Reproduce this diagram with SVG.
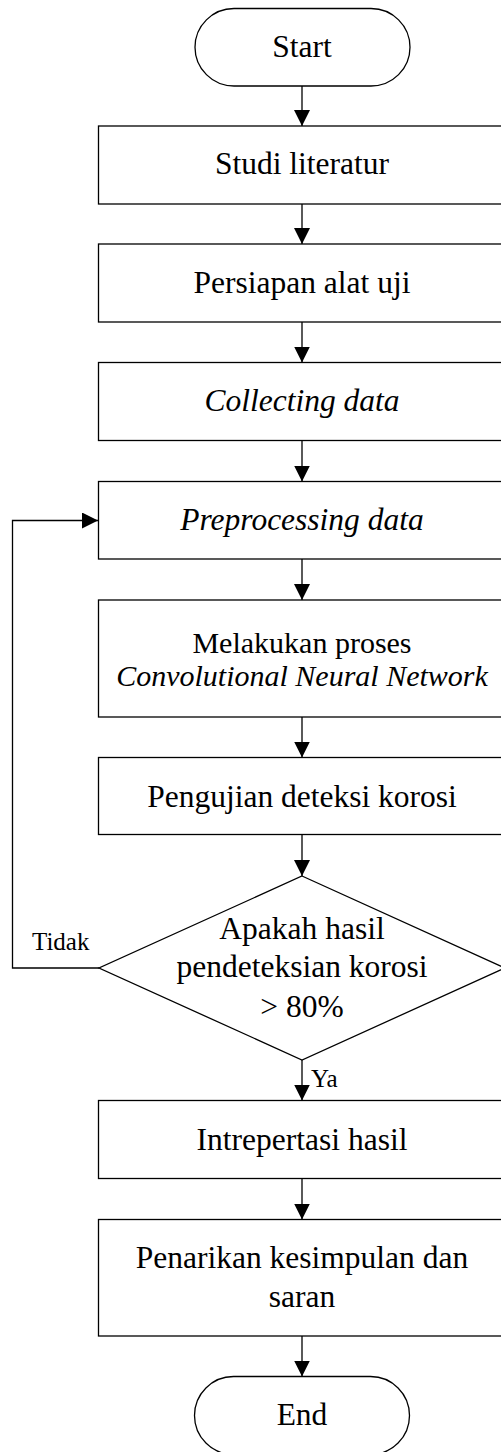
<svg xmlns="http://www.w3.org/2000/svg" width="501" height="1452" viewBox="0 0 501 1452">
  <style>
    .shape { fill: #ffffff; stroke: #000000; stroke-width: 1.3; }
    .wire { fill: none; stroke: #000000; stroke-width: 1.3; }
    .t { font-family: "Liberation Serif", "Times New Roman", serif; font-size: 31.5px; fill: #000000; text-anchor: middle; }
    .tight { font-size: 30px; }
    .it { font-style: italic; }
    .lbl { font-family: "Liberation Serif", "Times New Roman", serif; font-size: 25px; fill: #000000; }
  </style>
  <defs>
    <marker id="arrow" markerUnits="userSpaceOnUse" markerWidth="16" markerHeight="16" refX="16" refY="8" orient="auto">
      <path d="M0,0 L16,8 L0,16 Z" fill="#000000"/>
    </marker>
  </defs>
  <rect width="501" height="1452" fill="#ffffff"/>

  <!-- connectors -->
  <g id="connectors">
    <line class="wire" x1="302" y1="86" x2="302" y2="126" marker-end="url(#arrow)"/>
    <line class="wire" x1="302" y1="204" x2="302" y2="244" marker-end="url(#arrow)"/>
    <line class="wire" x1="302" y1="322" x2="302" y2="362.5" marker-end="url(#arrow)"/>
    <line class="wire" x1="302" y1="440.5" x2="302" y2="481.5" marker-end="url(#arrow)"/>
    <line class="wire" x1="302" y1="559" x2="302" y2="600" marker-end="url(#arrow)"/>
    <line class="wire" x1="302" y1="717" x2="302" y2="757.5" marker-end="url(#arrow)"/>
    <line class="wire" x1="302" y1="834.5" x2="302" y2="876" marker-end="url(#arrow)"/>
    <line class="wire" x1="302" y1="1060" x2="302" y2="1100.5" marker-end="url(#arrow)"/>
    <line class="wire" x1="302" y1="1178.5" x2="302" y2="1219.5" marker-end="url(#arrow)"/>
    <line class="wire" x1="302" y1="1336" x2="302" y2="1376.5" marker-end="url(#arrow)"/>
    <!-- "Tidak" loop back to preprocessing -->
    <polyline class="wire" points="99,968 12.5,968 12.5,520.5 98,520.5" marker-end="url(#arrow)"/>
    <text class="lbl" x="32" y="950">Tidak</text>
    <text class="lbl" x="311" y="1086.5">Ya</text>
  </g>

  <g id="start">
    <rect class="shape" x="195" y="8.5" width="215" height="77.5" rx="39" ry="39"/>
    <text class="t" x="302" y="56.5">Start</text>
  </g>

  <g id="studi-literatur">
    <rect class="shape" x="98.5" y="126" width="408" height="78"/>
    <text class="t" x="302" y="174">Studi literatur</text>
  </g>

  <g id="persiapan-alat">
    <rect class="shape" x="98.5" y="244" width="408" height="78"/>
    <text class="t" x="302" y="293">Persiapan alat uji</text>
  </g>

  <g id="collecting-data">
    <rect class="shape" x="98.5" y="362.5" width="408" height="78"/>
    <text class="t it" x="302" y="411">Collecting data</text>
  </g>

  <g id="preprocessing-data">
    <rect class="shape" x="98.5" y="481.5" width="408" height="77.5"/>
    <text class="t it" x="302" y="530">Preprocessing data</text>
  </g>

  <g id="proses-cnn">
    <rect class="shape" x="98.5" y="600" width="408" height="117"/>
    <text class="t tight" x="302" y="652.5">Melakukan proses</text>
    <text class="t tight it" x="302" y="686">Convolutional Neural Network</text>
  </g>

  <g id="pengujian">
    <rect class="shape" x="98.5" y="757.5" width="408" height="77"/>
    <text class="t" x="302" y="806.5">Pengujian deteksi korosi</text>
  </g>

  <g id="keputusan">
    <polygon class="shape" points="302,876 505,968 302,1060 99,968"/>
    <text class="t" x="302" y="939">Apakah hasil</text>
    <text class="t" x="302" y="977">pendeteksian korosi</text>
    <text class="t" x="302" y="1016.5">&gt; 80%</text>
  </g>

  <g id="intrepertasi">
    <rect class="shape" x="98.5" y="1100.5" width="408" height="78"/>
    <text class="t" x="302" y="1149.5">Intrepertasi hasil</text>
  </g>

  <g id="kesimpulan">
    <rect class="shape" x="98.5" y="1219.5" width="408" height="116.5"/>
    <text class="t" x="302" y="1268">Penarikan kesimpulan dan</text>
    <text class="t" x="302" y="1307">saran</text>
  </g>

  <g id="end">
    <rect class="shape" x="194.5" y="1376.5" width="215" height="78" rx="39" ry="39"/>
    <text class="t" x="302" y="1425">End</text>
  </g>
</svg>
